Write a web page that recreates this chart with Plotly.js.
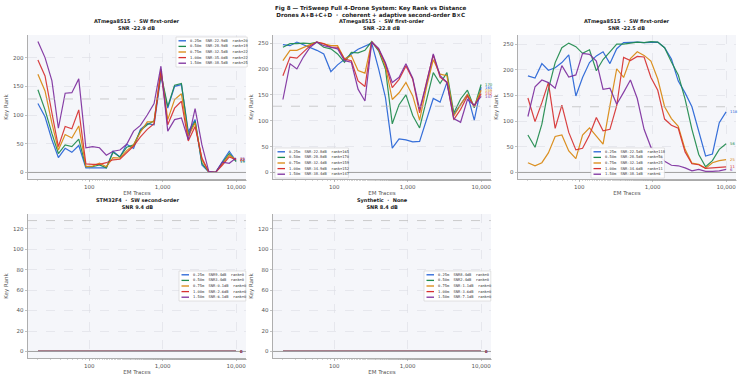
<!DOCTYPE html>
<html>
<head>
<meta charset="utf-8">
<script src="https://cdn.plot.ly/plotly-3.0.1.min.js"></script>
<style>
  html, body { margin: 0; padding: 0; background: #ffffff; }
  #chart { width: 742px; height: 379px; }
</style>
</head>
<body>
<div id="chart"></div>
<script>
// Number of EM traces used for each key-rank evaluation
const emTraces = [20, 25, 31, 38, 47, 58, 72, 90, 111, 138, 171, 211, 262, 324, 402,
                  498, 617, 764, 947, 1173, 1454, 1801, 2232, 2765, 3426, 4245, 5259, 6516, 8074, 10000];

const distances = ['0.25m', '0.50m', '0.75m', '1.00m', '1.50m'];
const seriesColors = ['#2563d6', '#1e8a4c', '#d8870e', '#d63030', '#7d2f9e'];

// ATmega8515 · SW first-order
const atmegaA_snr = [-22.9, -28.9, -32.5, -35.0, -38.5];
const atmegaA_025 = [120, 97, 57, 26, 42, 35, 47, 8, 8, 8, 8, 37, 27, 49, 42, 75, 85, 83, 168, 112, 150, 153, 71, 92, 13, 1, 0, 19, 37, 20];
const atmegaA_050 = [144, 109, 68, 33, 48, 45, 58, 10, 10, 13, 8, 35, 27, 44, 48, 73, 83, 90, 172, 115, 152, 155, 66, 89, 16, 1, 0, 17, 33, 19];
const atmegaA_075 = [171, 142, 86, 39, 66, 60, 81, 10, 11, 16, 10, 26, 25, 38, 48, 70, 88, 88, 180, 92, 127, 137, 63, 86, 22, 1, 0, 16, 30, 22];
const atmegaA_100 = [196, 168, 104, 45, 80, 76, 109, 15, 14, 14, 17, 22, 23, 35, 46, 62, 75, 85, 177, 83, 112, 124, 55, 80, 25, 1, 0, 13, 27, 22];
const atmegaA_150 = [228, 200, 160, 77, 138, 139, 163, 43, 45, 43, 30, 37, 39, 49, 72, 82, 100, 120, 185, 72, 92, 95, 57, 111, 48, 2, 0, 18, 16, 25];

// ATmega8515 · SW first-order (second capture)
const atmegaB_snr = [-22.8, -28.8, -32.4, -34.9, -38.4];
const atmegaB_025 = [247, 245, 252, 247, 242, 236, 229, 195, 208, 219, 229, 238, 244, 250, 200, 145, 47, 65, 63, 59, 60, 100, 143, 136, 174, 112, 131, 151, 101, 165];
const atmegaB_050 = [242, 249, 249, 250, 249, 252, 242, 239, 229, 213, 232, 231, 236, 253, 235, 200, 94, 131, 150, 110, 86, 138, 193, 172, 193, 115, 142, 159, 125, 170];
const atmegaB_075 = [216, 236, 236, 242, 247, 252, 249, 245, 245, 219, 226, 197, 192, 253, 238, 205, 141, 154, 174, 148, 101, 164, 218, 190, 187, 109, 131, 151, 128, 159];
const atmegaB_100 = [187, 223, 221, 232, 245, 252, 249, 242, 242, 219, 216, 177, 166, 252, 238, 210, 164, 180, 206, 180, 115, 174, 227, 184, 174, 102, 122, 148, 128, 152];
const atmegaB_150 = [141, 210, 200, 223, 242, 252, 245, 242, 239, 216, 213, 161, 138, 252, 240, 212, 174, 184, 210, 182, 122, 171, 229, 187, 174, 104, 97, 141, 130, 147];

// ATmega8515 · SW first-order (third capture)
const atmegaC_snr = [-22.5, -28.5, -32.1, -34.6, -38.1];
const atmegaC_025 = [188, 184, 212, 199, 204, 214, 229, 149, 185, 214, 227, 235, 212, 241, 253, 254, 254, 253, 254, 254, 243, 221, 178, 155, 128, 78, 32, 36, 97, 118];
const atmegaC_050 = [73, 49, 94, 162, 214, 243, 252, 245, 232, 239, 198, 220, 235, 250, 250, 252, 254, 253, 255, 254, 243, 215, 190, 143, 84, 35, 11, 23, 45, 56];
const atmegaC_075 = [19, 13, 19, 38, 70, 73, 42, 27, 73, 87, 71, 55, 130, 202, 185, 222, 235, 228, 217, 182, 128, 105, 90, 45, 18, 16, 8, 19, 23, 25];
const atmegaC_100 = [145, 99, 136, 175, 86, 131, 78, 44, 47, 73, 107, 81, 84, 130, 224, 218, 226, 225, 185, 160, 104, 92, 86, 40, 17, 15, 8, 9, 10, 11];
const atmegaC_150 = [109, 167, 180, 175, 164, 208, 186, 190, 232, 230, 217, 162, 164, 133, 156, 180, 144, 84, 49, 35, 22, 14, 13, 9, 3, 6, 2, 2, 3, 6];

// STM32F4 · SW second-order and Synthetic: key fully recovered at every trace count
const stm32_snr = [9.4, 3.4, -0.1, -2.6, -6.1];
const synth_snr = [8.4, 2.4, -1.1, -3.6, -7.1];
const recoveredRank = [0, 0, 0, 0, 0, 0, 0, 0, 0, 0, 0, 0, 0, 0, 0, 0, 0, 0, 0, 0, 0, 0, 0, 0, 0, 0, 0, 0, 0, 0];

const fullKeyRank = 128;

const W = 742, H = 379;
const px = x => x / W;
const py = y => 1 - y / H;

const panels = [
  { head: 'ATmega8515  ·  SW first-order', snr: atmegaA_snr,
    ranks: [atmegaA_025, atmegaA_050, atmegaA_075, atmegaA_100, atmegaA_150],
    box: [28, 35, 246, 179], yticks: [0, 50, 100, 150, 200], leg: [176, 37] },
  { head: 'ATmega8515  ·  SW first-order', snr: atmegaB_snr,
    ranks: [atmegaB_025, atmegaB_050, atmegaB_075, atmegaB_100, atmegaB_150],
    box: [273, 35, 491, 179], yticks: [0, 50, 100, 150, 200, 250], leg: [275, 148] },
  { head: 'ATmega8515  ·  SW first-order', snr: atmegaC_snr,
    ranks: [atmegaC_025, atmegaC_050, atmegaC_075, atmegaC_100, atmegaC_150],
    box: [518, 35, 736, 179], yticks: [0, 50, 100, 150, 200, 250], leg: [591, 148] },
  { head: 'STM32F4  ·  SW second-order', snr: stm32_snr,
    ranks: [recoveredRank, recoveredRank, recoveredRank, recoveredRank, recoveredRank],
    box: [28, 214, 246, 358], yticks: [0, 20, 40, 60, 80, 100, 120], leg: [179, 271] },
  { head: 'Synthetic  ·  None', snr: synth_snr,
    ranks: [recoveredRank, recoveredRank, recoveredRank, recoveredRank, recoveredRank],
    box: [273, 214, 491, 358], yticks: [0, 20, 40, 60, 80, 100, 120], leg: [424, 271] }
];

const data = [];
const shapes = [];
const annotations = [];
const layout = {
  width: W, height: H,
  margin: { l: 0, r: 0, t: 0, b: 0 },
  paper_bgcolor: '#ffffff',
  font: { family: 'DejaVu Sans', size: 5.5, color: '#444' },
  showlegend: false,
  shapes: shapes,
  annotations: annotations
};

const lgx0 = Math.log10(emTraces[0]);
const lgx1 = Math.log10(emTraces[emTraces.length - 1]);
const xpad = 0.05 * (lgx1 - lgx0);

function fmtSnr(v) { return v.toFixed(1); }

panels.forEach((p, k) => {
  const n = k + 1;
  const xa = 'x' + (n === 1 ? '' : n);
  const ya = 'y' + (n === 1 ? '' : n);
  const xKey = 'xaxis' + (n === 1 ? '' : n);
  const yKey = 'yaxis' + (n === 1 ? '' : n);

  // y range: data plus reference lines, with 5% padding
  let ymax = fullKeyRank, ymin = 0;
  p.ranks.forEach(r => r.forEach(v => { ymax = Math.max(ymax, v); ymin = Math.min(ymin, v); }));
  const ypad = 0.05 * (ymax - ymin);

  layout[xKey] = {
    domain: [px(p.box[0]), px(p.box[2])],
    anchor: ya, type: 'log',
    range: [lgx0 - xpad, lgx1 + xpad],
    tickvals: [100, 1000, 10000], ticktext: ['100', '1,000', '10,000'],
    ticks: 'outside', ticklen: 2.5, tickcolor: '#999', tickwidth: 0.6,
    minor: { ticks: 'outside', ticklen: 1.5, tickcolor: '#aaa', tickwidth: 0.5, showgrid: false },
    showline: true, linecolor: '#9a9a9a', linewidth: 0.8,
    showgrid: true, gridcolor: '#dcdde4', gridwidth: 0.6, griddash: 'dash',
    zeroline: false,
    tickfont: { size: 5.5, color: '#555' },
    title: { text: 'EM Traces', font: { size: 5.5, color: '#555' }, standoff: 2 }
  };
  layout[yKey] = {
    domain: [py(p.box[3]), py(p.box[1])],
    anchor: xa,
    range: [ymin - ypad, ymax + ypad],
    tickvals: p.yticks,
    ticks: 'outside', ticklen: 2.5, tickcolor: '#999', tickwidth: 0.6,
    showline: true, linecolor: '#9a9a9a', linewidth: 0.8,
    showgrid: true, gridcolor: '#dcdde4', gridwidth: 0.6, griddash: 'dash',
    zeroline: false,
    tickfont: { size: 5.5, color: '#555' },
    title: { text: 'Key Rank', font: { size: 5.5, color: '#555' }, standoff: 4 }
  };

  // axes background
  shapes.push({ type: 'rect', xref: xa + ' domain', yref: ya + ' domain', x0: 0, x1: 1, y0: 0, y1: 1,
                fillcolor: '#f5f6fa', line: { width: 0 }, layer: 'below' });
  // full-key-rank reference and zero line
  shapes.push({ type: 'line', xref: xa + ' domain', yref: ya, x0: 0, x1: 1, y0: fullKeyRank, y1: fullKeyRank,
                line: { color: '#b8b8b8', width: 0.7, dash: 'dash' } });
  shapes.push({ type: 'line', xref: xa + ' domain', yref: ya, x0: 0, x1: 1, y0: 0, y1: 0,
                line: { color: '#a0a0a0', width: 1 } });

  // series lines
  p.ranks.forEach((r, i) => {
    data.push({
      type: 'scatter', mode: 'lines', x: emTraces, y: r, xaxis: xa, yaxis: ya,
      line: { color: seriesColors[i], width: 1.2 }, opacity: 0.92,
      name: distances[i], hoverinfo: 'skip'
    });
    // final rank label at the end of each curve
    annotations.push({
      xref: xa, yref: ya, x: lgx1, y: r[r.length - 1],
      text: String(r[r.length - 1]), showarrow: false, xanchor: 'left', yanchor: 'middle', xshift: 2,
      font: { family: 'DejaVu Sans', size: 3.8, color: seriesColors[i] }
    });
  });

  // panel title
  annotations.push({
    xref: 'paper', yref: 'paper', x: px((p.box[0] + p.box[2]) / 2), y: py(p.box[1] - 2),
    xanchor: 'center', yanchor: 'bottom', showarrow: false,
    text: '<b>' + p.head + '</b><br><b>SNR ' + fmtSnr(p.snr[0]) + ' dB</b>',
    font: { family: 'DejaVu Sans', size: 5, color: '#222' }
  });

  // legend box
  const lx = p.leg[0], ly = p.leg[1];
  const rowH = 5.6;
  const labels = p.ranks.map((r, i) =>
    distances[i] + '  SNR' + fmtSnr(p.snr[i]) + 'dB  rank=' + r[r.length - 1]);
  const longest = Math.max(...labels.map(s => s.length));
  const boxW = 14 + longest * 2.2;
  shapes.push({ type: 'rect', xref: 'paper', yref: 'paper',
                x0: px(lx), x1: px(lx + boxW), y0: py(ly), y1: py(ly + rowH * 5 + 2),
                fillcolor: 'rgba(255,255,255,0.9)', line: { color: '#d0d0d0', width: 0.6 } });
  labels.forEach((t, i) => {
    const yy = ly + 3.8 + i * rowH;
    shapes.push({ type: 'line', xref: 'paper', yref: 'paper',
                  x0: px(lx + 2.5), x1: px(lx + 10), y0: py(yy), y1: py(yy),
                  line: { color: seriesColors[i], width: 1.3 } });
    annotations.push({ xref: 'paper', yref: 'paper', x: px(lx + 12), y: py(yy),
                       xanchor: 'left', yanchor: 'middle', showarrow: false, text: t,
                       font: { family: 'DejaVu Sans Mono', size: 3.7, color: '#333' } });
  });
});

// figure title
annotations.push({
  xref: 'paper', yref: 'paper', x: 0.5, y: py(3), xanchor: 'center', yanchor: 'top', showarrow: false,
  text: '<b>Fig 8 — TriSweep Full 4-Drone System: Key Rank vs Distance</b><br>' +
        '<b>Drones A+B+C+D  ·  coherent + adaptive second-order B×C</b>',
  font: { family: 'DejaVu Sans', size: 5.6, color: '#222' }
});

Plotly.newPlot('chart', data, layout, { displayModeBar: false, staticPlot: true });
</script>
</body>
</html>
